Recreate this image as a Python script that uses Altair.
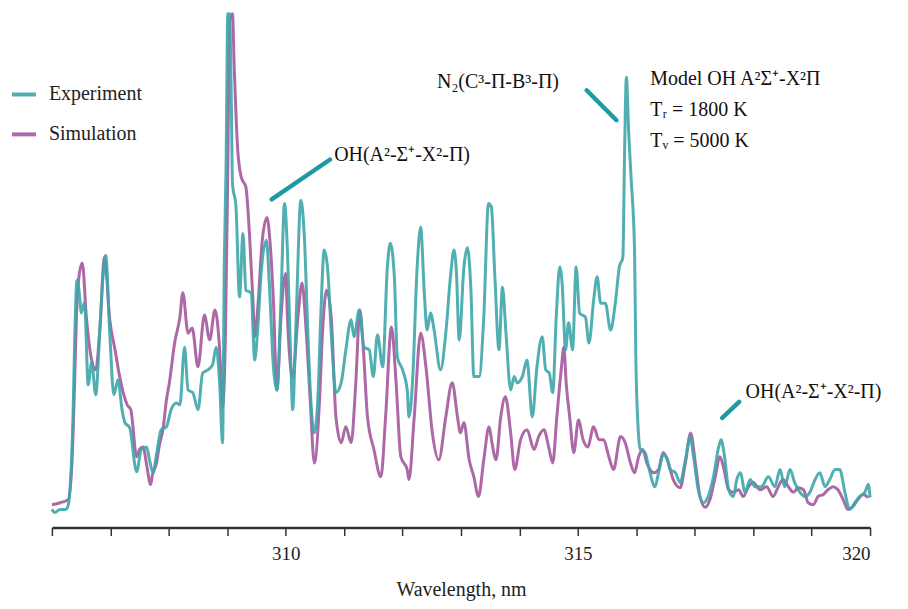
import altair as alt
import pandas as pd

# ---------------- data ----------------
exp_wl = [306.00, 306.05, 306.14, 306.24, 306.28, 306.32, 306.36, 306.39, 306.43, 306.48,
          306.50, 306.56, 306.62, 306.68, 306.75, 306.82, 306.87, 306.92, 306.99, 307.06,
          307.13, 307.20, 307.25, 307.33, 307.45, 307.53, 307.62, 307.67, 307.73, 307.79,
          307.87, 307.96, 308.04, 308.13, 308.19, 308.27, 308.33, 308.41, 308.50, 308.58,
          308.67, 308.75, 308.81, 308.87, 308.92, 308.95, 308.98, 309.01, 309.04, 309.07,
          309.09, 309.15, 309.21, 309.27, 309.32, 309.41, 309.47, 309.52, 309.58, 309.67,
          309.72, 309.79, 309.85, 309.92, 309.98, 310.03, 310.09, 310.12, 310.18, 310.26,
          310.32, 310.38, 310.43, 310.49, 310.55, 310.60, 310.66, 310.72, 310.78, 310.86,
          310.95, 311.03, 311.12, 311.17, 311.26, 311.34, 311.43, 311.50, 311.57, 311.66,
          311.74, 311.79, 311.86, 311.91, 312.00, 312.08, 312.11, 312.17, 312.25, 312.31,
          312.37, 312.42, 312.48, 312.54, 312.65, 312.74, 312.82, 312.88, 312.92, 312.97,
          313.05, 313.11, 313.17, 313.22, 313.31, 313.39, 313.47, 313.52, 313.58, 313.65,
          313.71, 313.77, 313.85, 313.91, 313.96, 314.05, 314.13, 314.22, 314.30, 314.39,
          314.45, 314.51, 314.57, 314.63, 314.69, 314.73, 314.79, 314.84, 314.91, 314.97,
          315.03, 315.13, 315.19, 315.27, 315.33, 315.39, 315.47, 315.56, 315.64, 315.71,
          315.77, 315.80, 315.83, 315.87, 315.91, 315.97, 315.99, 316.03, 316.07, 316.15,
          316.21, 316.32, 316.38, 316.46, 316.52, 316.58, 316.67, 316.75, 316.84, 316.92,
          316.98, 317.06, 317.15, 317.23, 317.32, 317.41, 317.45, 317.51, 317.58, 317.66,
          317.72, 317.78, 317.86, 317.95, 318.03, 318.14, 318.26, 318.37, 318.46, 318.54,
          318.63, 318.71, 318.80, 318.89, 318.97, 319.06, 319.14, 319.23, 319.31, 319.40,
          319.48, 319.57, 319.65, 319.74, 319.82, 319.91, 319.97, 320.00]
exp_int = [3.5, 2.9, 3.5, 3.5, 4.4, 9.3, 20.8, 36.3, 47.9, 44.0,
           41.5, 43.6, 27.6, 32.0, 25.7, 38.2, 47.9, 52.7, 37.6, 25.7,
           28.6, 22.8, 20.3, 19.3, 10.8, 15.1, 15.6, 13.1, 10.6, 14.1,
           18.9, 19.5, 22.8, 24.1, 23.7, 34.9, 26.6, 26.1, 22.8, 29.9,
           30.5, 31.5, 34.9, 28.0, 16.4, 51.2, 69.7, 99.4, 99.4, 82.6,
           66.6, 62.0, 44.6, 56.9, 45.9, 45.4, 32.4, 38.2, 49.2, 55.6,
           47.3, 31.1, 26.6, 44.0, 62.7, 53.7, 31.1, 22.8, 40.7, 63.3,
           56.2, 37.6, 24.7, 18.3, 24.7, 40.7, 53.7, 49.8, 37.6, 26.1,
           28.0, 34.4, 40.2, 36.9, 42.1, 34.9, 34.4, 29.2, 37.3, 31.1,
           50.4, 55.0, 48.5, 33.0, 30.5, 26.6, 21.4, 28.0, 50.4, 58.1,
           45.9, 38.2, 41.5, 38.2, 30.5, 37.6, 48.5, 53.7, 49.8, 36.3,
           50.4, 54.2, 45.9, 29.2, 29.2, 40.7, 62.7, 62.0, 48.5, 34.4,
           46.5, 37.6, 26.6, 29.2, 28.0, 29.2, 32.4, 21.4, 31.1, 36.9,
           30.5, 29.9, 26.1, 40.7, 50.4, 47.3, 34.4, 39.6, 34.4, 50.4,
           41.5, 40.7, 35.7, 44.0, 48.5, 43.4, 43.4, 38.2, 43.4, 50.4,
           52.3, 73.0, 87.1, 76.3, 67.8, 53.7, 34.4, 19.5, 15.1, 14.5,
           11.8, 7.9, 10.6, 14.1, 13.5, 11.2, 10.6, 8.7, 13.1, 17.4,
           13.7, 7.3, 4.8, 6.0, 9.8, 15.6, 17.0, 13.7, 7.3, 6.0,
           9.3, 10.6, 6.8, 9.3, 7.9, 7.9, 9.8, 7.9, 11.2, 7.9,
           11.2, 8.7, 6.8, 6.0, 6.8, 9.3, 10.6, 7.9, 9.3, 11.2,
           11.2, 6.8, 3.5, 4.8, 6.0, 6.8, 8.3, 5.8]

sim_wl = [306.00, 306.14, 306.28, 306.34, 306.38, 306.42, 306.47, 306.52, 306.59, 306.68,
          306.75, 306.82, 306.90, 306.99, 307.08, 307.16, 307.23, 307.29, 307.35, 307.45,
          307.50, 307.56, 307.62, 307.69, 307.72, 307.79, 307.84, 307.90, 307.96, 308.01,
          308.10, 308.19, 308.24, 308.33, 308.40, 308.50, 308.61, 308.70, 308.79, 308.87,
          308.92, 308.97, 309.01, 309.04, 309.09, 309.12, 309.18, 309.24, 309.32, 309.38,
          309.44, 309.47, 309.52, 309.60, 309.68, 309.73, 309.79, 309.85, 309.92, 310.00,
          310.03, 310.12, 310.21, 310.28, 310.35, 310.42, 310.49, 310.58, 310.63, 310.70,
          310.78, 310.86, 310.95, 311.03, 311.12, 311.20, 311.27, 311.33, 311.40, 311.51,
          311.63, 311.71, 311.81, 311.89, 311.97, 312.08, 312.11, 312.20, 312.31, 312.40,
          312.51, 312.62, 312.74, 312.85, 312.94, 312.99, 313.05, 313.14, 313.22, 313.30,
          313.39, 313.48, 313.53, 313.60, 313.68, 313.76, 313.85, 313.92, 314.02, 314.13,
          314.25, 314.33, 314.42, 314.50, 314.57, 314.64, 314.72, 314.76, 314.80, 314.86,
          314.93, 315.01, 315.09, 315.17, 315.27, 315.36, 315.44, 315.53, 315.61, 315.73,
          315.81, 315.90, 315.97, 316.04, 316.11, 316.18, 316.30, 316.38, 316.46, 316.55,
          316.63, 316.75, 316.84, 316.93, 317.01, 317.09, 317.18, 317.26, 317.35, 317.43,
          317.49, 317.58, 317.66, 317.75, 317.83, 317.92, 318.00, 318.12, 318.23, 318.34,
          318.43, 318.51, 318.60, 318.69, 318.77, 318.86, 318.94, 319.03, 319.11, 319.20,
          319.28, 319.37, 319.45, 319.54, 319.62, 319.71, 319.79, 319.88, 319.97]
sim_int = [4.4, 4.8, 5.4, 11.8, 24.7, 40.7, 49.2, 51.2, 40.7, 32.4,
           30.5, 38.2, 52.3, 40.2, 34.4, 29.2, 25.7, 23.7, 22.8, 13.7,
           15.1, 15.6, 12.2, 8.3, 10.2, 12.5, 16.0, 18.9, 24.7, 28.0,
           35.7, 40.7, 45.4, 37.6, 38.6, 31.1, 41.1, 36.3, 42.1, 34.4,
           23.4, 37.6, 69.7, 98.1, 99.4, 89.0, 73.0, 67.8, 65.8, 56.9,
           44.0, 36.9, 42.1, 55.6, 60.0, 55.6, 44.0, 26.6, 40.7, 49.2,
           40.7, 29.0, 40.7, 47.3, 38.2, 24.7, 12.5, 24.7, 37.6, 45.9,
           40.7, 21.4, 16.4, 19.5, 16.4, 28.0, 42.1, 34.4, 21.4, 15.1,
           9.8, 21.4, 38.8, 28.0, 13.7, 11.2, 9.3, 21.4, 37.6, 31.1,
           18.3, 13.1, 21.4, 28.0, 21.4, 18.3, 20.3, 13.1, 9.8, 6.0,
           13.1, 19.5, 16.4, 13.1, 21.4, 25.3, 18.3, 11.2, 17.0, 18.9,
           15.1, 17.6, 18.9, 15.6, 12.5, 21.4, 31.1, 34.9, 28.0, 21.4,
           14.5, 20.8, 17.0, 15.6, 19.5, 17.0, 17.0, 13.7, 11.2, 17.6,
           16.4, 12.5, 10.6, 13.7, 15.1, 12.5, 10.6, 11.2, 14.5, 12.5,
           9.3, 7.7, 12.5, 18.3, 12.5, 6.0, 3.9, 5.4, 9.8, 13.7,
           11.8, 7.3, 6.8, 7.3, 6.0, 7.9, 8.7, 7.3, 7.9, 6.0,
           7.9, 9.3, 7.9, 6.8, 7.7, 7.3, 4.8, 4.4, 6.0, 6.4,
           7.3, 7.9, 7.3, 5.4, 3.5, 4.1, 5.4, 6.4, 5.8]

series_names = ["Experiment", "Simulation"]
series_colors = ["#3ea6aa", "#a4589f"]

tick_values = list(range(306, 321))

label_texts = ["OH(A²-Σ⁺-X²-Π)", "N₂(C³-Π-B³-Π)", "Model OH A²Σ⁺-X²Π",
               "Tᵣ = 1800 K", "Tᵥ = 5000 K", "OH(A²-Σ⁺-X²-Π)"]
label_wl = [310.83, 312.59, 316.24, 316.24, 316.24, 317.87]
label_int = [72.0, 86.1, 86.7, 80.7, 74.7, 26.3]

leader_wl1 = [309.76, 315.15, 317.47]
leader_int1 = [63.5, 84.6, 21.2]
leader_wl2 = [310.76, 315.66, 317.76]
leader_int2 = [71.2, 78.8, 24.3]

# ---------------- tables ----------------
exp_df = pd.DataFrame({"wl": exp_wl, "I": exp_int, "series": series_names[0]})
sim_df = pd.DataFrame({"wl": sim_wl, "I": sim_int, "series": series_names[1]})
lab_df = pd.DataFrame({"wl": label_wl, "I": label_int, "text": label_texts})
lead_df = pd.DataFrame({"wl": leader_wl1, "I": leader_int1,
                        "wl2": leader_wl2, "I2": leader_int2})

SERIF = "Liberation Serif, Times New Roman, serif"

xscale = alt.Scale(domain=[306, 320], nice=False, zero=False)
yscale = alt.Scale(domain=[0, 100], nice=False)
color = alt.Color(
    "series:N",
    scale=alt.Scale(domain=series_names, range=series_colors),
    legend=alt.Legend(
        title=None, orient="none", legendX=-42, legendY=70,
        symbolType="stroke", symbolSize=576, symbolStrokeWidth=4,
        labelFont=SERIF, labelFontSize=20, labelColor="#222",
        labelOffset=11, rowPadding=16,
    ),
)

xaxis = alt.Axis(
    title="Wavelength, nm", values=tick_values, format="d",
    labelExpr="datum.value % 5 == 0 ? datum.label : ''",
    grid=False, tickSize=8, tickWidth=1.5, tickColor="#333",
    domainColor="#333", domainWidth=2.5,
    labelFont=SERIF, labelFontSize=19, labelColor="#222",
    labelPadding=9, titleFont=SERIF, titleFontSize=20,
    titleFontWeight="normal", titleColor="#222", titlePadding=16,
)

sim_line = alt.Chart(sim_df).mark_line(strokeWidth=3, opacity=0.9, interpolate="monotone").encode(
    x=alt.X("wl:Q", scale=xscale, axis=xaxis),
    y=alt.Y("I:Q", scale=yscale, axis=None),
    color=color,
)
exp_line = alt.Chart(exp_df).mark_line(strokeWidth=3, opacity=0.9, interpolate="monotone").encode(
    x=alt.X("wl:Q", scale=xscale),
    y=alt.Y("I:Q", scale=yscale),
    color=color,
)
leaders = alt.Chart(lead_df).mark_rule(strokeWidth=4.5, color="#1d9aa4", strokeCap="round").encode(
    x=alt.X("wl:Q", scale=xscale), x2="wl2:Q",
    y=alt.Y("I:Q", scale=yscale), y2="I2:Q",
)
labels = alt.Chart(lab_df).mark_text(
    align="left", baseline="middle", font=SERIF, fontSize=20, color="#111"
).encode(
    x=alt.X("wl:Q", scale=xscale),
    y=alt.Y("I:Q", scale=yscale),
    text="text:N",
)

chart = (
    alt.layer(sim_line, exp_line, leaders, labels)
    .properties(
        width=820, height=518,
        autosize=alt.AutoSizeParams(type="none"),
        padding={"left": 44, "top": 2, "right": 30, "bottom": 80},
        background="white",
    )
    .configure_view(strokeWidth=0, stroke=None)
    .configure_axis(labelFont=SERIF, titleFont=SERIF)
    .configure_legend(labelFont=SERIF)
)

chart.save("out.html", embed_options={"renderer": "svg", "actions": False})
